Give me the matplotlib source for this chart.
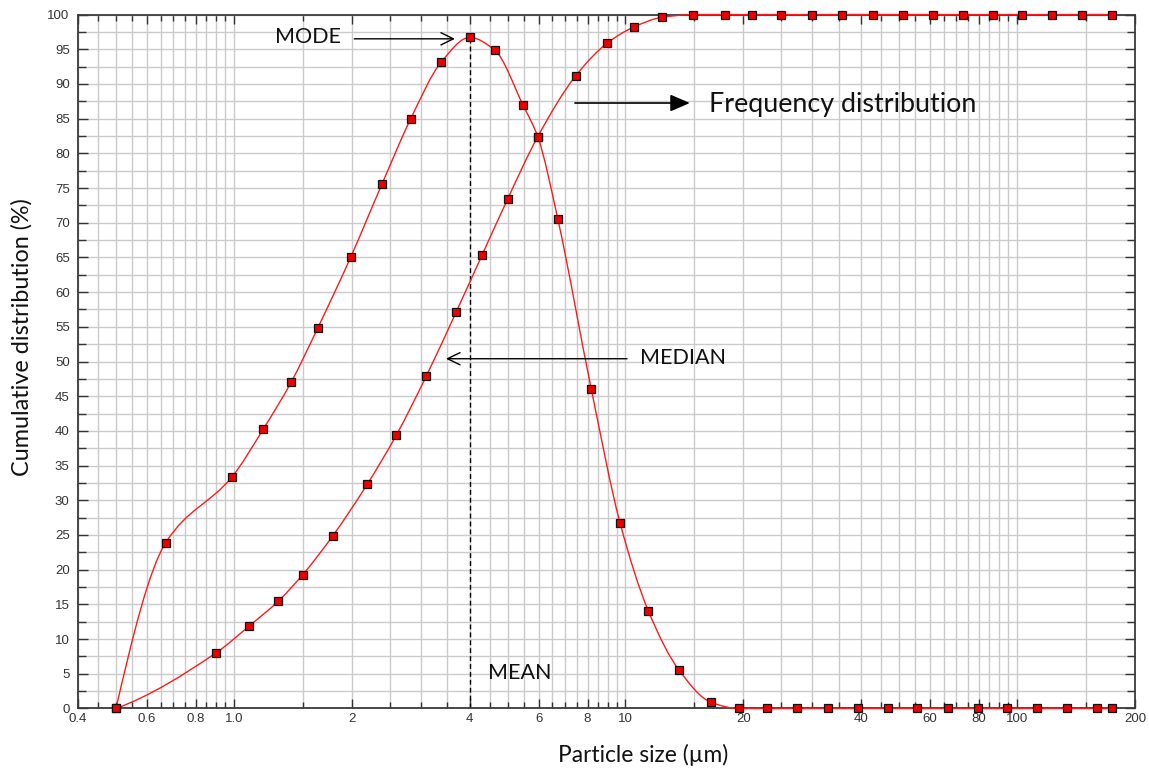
import numpy as np
import matplotlib
matplotlib.use("Agg")
import matplotlib.pyplot as plt
from matplotlib.path import Path
from matplotlib.patches import PathPatch
from matplotlib.ticker import FixedLocator, FixedFormatter, MultipleLocator, NullFormatter

# ---- data -------------------------------------------------------------
freq_x = [0.50, 0.67, 0.99, 1.19, 1.40, 1.64, 1.99, 2.39, 2.83, 3.39, 4.00,
          4.63, 5.48, 5.97, 6.72, 8.18, 9.69, 11.43, 13.71, 16.53, 19.46,
          22.95, 27.4, 32.9, 39.2, 46.7, 55.4, 66.5, 79.4, 94.1, 112.2,
          134.4, 159.8, 174.5]
freq_y = [0.0, 23.9, 33.4, 40.3, 47.0, 54.9, 65.1, 75.6, 85.0, 93.2, 96.7,
          94.9, 86.9, 82.4, 70.5, 46.0, 26.7, 14.1, 5.5, 0.9, 0.0,
          0.0, 0.0, 0.0, 0.0, 0.0, 0.0, 0.0, 0.0, 0.0, 0.0,
          0.0, 0.0, 0.0]

cum_x = [0.50, 0.90, 1.095, 1.30, 1.50, 1.79, 2.19, 2.60, 3.10, 3.70, 4.30,
         5.00, 5.97, 7.47, 8.99, 10.5, 12.4, 14.9, 17.96, 21.0, 24.9, 29.9,
         35.8, 42.8, 51.0, 61.1, 72.6, 86.7, 103.2, 123.0, 146.8, 174.5]
cum_y = [0.0, 8.0, 11.9, 15.5, 19.3, 24.9, 32.3, 39.4, 47.9, 57.2, 65.3,
         73.4, 82.4, 91.2, 95.9, 98.2, 99.6, 100.0, 100.0, 100.0, 100.0, 100.0,
         100.0, 100.0, 100.0, 100.0, 100.0, 100.0, 100.0, 100.0, 100.0, 100.0]

x_ticks = [0.4, 0.6, 0.8, 1.0, 2, 4, 6, 8, 10, 20, 40, 60, 80, 100, 200]
x_tick_labels = ["0.4", "0.6", "0.8", "1.0", "2", "4", "6", "8", "10",
                 "20", "40", "60", "80", "100", "200"]

# ---- helpers ----------------------------------------------------------
def smooth_path(x, y):
    """Monotone cubic (PCHIP) through the points in log10(x) space,
    returned as a Bezier Path in data coordinates."""
    lx = np.log10(np.asarray(x, float))
    y = np.asarray(y, float)
    h = np.diff(lx)
    d = np.diff(y) / h
    n = len(y)
    m = np.zeros(n)
    for k in range(1, n - 1):
        if d[k - 1] * d[k] <= 0:
            m[k] = 0.0
        else:
            w1 = 2 * h[k] + h[k - 1]
            w2 = h[k] + 2 * h[k - 1]
            m[k] = (w1 + w2) / (w1 / d[k - 1] + w2 / d[k])

    def end_slope(h0, h1, d0, d1):
        s = ((2 * h0 + h1) * d0 - h0 * d1) / (h0 + h1)
        if np.sign(s) != np.sign(d0):
            s = 0.0
        elif np.sign(d0) != np.sign(d1) and abs(s) > abs(3 * d0):
            s = 3 * d0
        return s

    m[0] = end_slope(h[0], h[1], d[0], d[1])
    m[-1] = end_slope(h[-1], h[-2], d[-1], d[-2])

    verts = [(10 ** lx[0], y[0])]
    codes = [Path.MOVETO]
    for k in range(n - 1):
        c1 = (lx[k] + h[k] / 3, y[k] + m[k] * h[k] / 3)
        c2 = (lx[k + 1] - h[k] / 3, y[k + 1] - m[k + 1] * h[k] / 3)
        verts += [(10 ** c1[0], c1[1]), (10 ** c2[0], c2[1]),
                  (10 ** lx[k + 1], y[k + 1])]
        codes += [Path.CURVE4] * 3
    return Path(verts, codes)


# ---- figure -----------------------------------------------------------
fig = plt.figure(figsize=(11.49, 7.69), dpi=100)
ax = fig.add_axes([0.0679, 0.0787, 0.9199, 0.9024])

ax.set_xscale("log")
ax.set_xlim(0.4, 200)
ax.set_ylim(0, 100)

# grid: every half-step inside each decade
grid_pos = np.concatenate([np.arange(d, 10 * d - 1e-9, d / 2)
                           for d in (0.1, 1.0, 10.0, 100.0)])
grid_pos = grid_pos[(grid_pos > 0.4 + 1e-9) & (grid_pos <= 200 + 1e-9)]

ax.xaxis.set_major_locator(FixedLocator(x_ticks))
ax.xaxis.set_major_formatter(FixedFormatter(x_tick_labels))
ax.xaxis.set_minor_locator(FixedLocator(grid_pos))
ax.xaxis.set_minor_formatter(NullFormatter())
ax.yaxis.set_major_locator(MultipleLocator(5))
ax.yaxis.set_minor_locator(MultipleLocator(2.5))

grid_kw = dict(color="#cbcbcb", linewidth=1.0)
ax.grid(True, which="major", **grid_kw)
ax.grid(True, which="minor", **grid_kw)
ax.set_axisbelow(True)

tick_font = {"family": "Liberation Sans", "size": 9.5}
ax.tick_params(axis="both", which="both", direction="in", top=True,
               right=True, colors="#333333", labelcolor="#333333")
ax.tick_params(axis="x", which="major", length=6.5, width=1.0, pad=3.5)
ax.tick_params(axis="x", which="minor", length=4.0, width=1.0)
ax.tick_params(axis="y", which="major", length=7.0, width=1.0, pad=6)
ax.tick_params(axis="y", which="minor", length=5.5, width=1.0)
for lab in ax.get_xticklabels() + ax.get_yticklabels():
    lab.set_fontfamily(tick_font["family"])
    lab.set_fontsize(tick_font["size"])

for sp in ax.spines.values():
    sp.set_color("#3a3a3a")
    sp.set_linewidth(1.3)

# curves
for xs, ys in ((freq_x, freq_y), (cum_x, cum_y)):
    ax.add_patch(PathPatch(smooth_path(xs, ys), facecolor="none",
                           edgecolor="#ff1a1a", linewidth=1.0,
                           clip_on=False, zorder=3))
    ax.plot(xs, ys, linestyle="none", marker="s", markersize=5.6,
            markerfacecolor="#ee0000", markeredgecolor="#111111",
            markeredgewidth=0.9, clip_on=False, zorder=4)

# mode line
k_mode = int(np.argmax(freq_y))
ax.vlines(freq_x[k_mode], 0, freq_y[k_mode], colors="black",
          linestyles=(0, (3.5, 2.2)), linewidth=1.0, zorder=2)

# annotations
label_font = "Lato"
txt_color = "#111111"
ax.annotate("", xy=(3.67, 96.5), xytext=(2.03, 96.5),
            arrowprops=dict(arrowstyle="->,head_length=0.45,head_width=0.22",
                            color="black", lw=1.0, mutation_scale=20,
                            shrinkA=0, shrinkB=0))
ax.text(1.55, 96.8, "MODE", fontsize=15.5, family=label_font,
        color=txt_color, ha="center", va="center")

ax.annotate("", xy=(14.6, 87.25), xytext=(7.43, 87.25),
            arrowprops=dict(arrowstyle="-|>,head_length=0.6,head_width=0.26",
                            color="black", lw=1.2, mutation_scale=20,
                            shrinkA=0, shrinkB=0))
ax.text(16.35, 87.1, "Frequency distribution", fontsize=19.4,
        family=label_font, color=txt_color, ha="left", va="center")

ax.annotate("", xy=(3.48, 50.4), xytext=(10.09, 50.4),
            arrowprops=dict(arrowstyle="->,head_length=0.45,head_width=0.22",
                            color="black", lw=1.0, mutation_scale=20,
                            shrinkA=0, shrinkB=0))
ax.text(10.89, 50.5, "MEDIAN", fontsize=15.5, family=label_font,
        color=txt_color, ha="left", va="center")

ax.text(4.46, 5.1, "MEAN", fontsize=15.5, family=label_font,
        color=txt_color, ha="left", va="center")

ax.set_xlabel("Particle size (µm)", fontsize=16.4, family=label_font,
              color=txt_color, va="center")
ax.xaxis.set_label_coords(0.5345, -0.067)
ax.set_ylabel("Cumulative distribution (%)", fontsize=16.8, family=label_font,
              color=txt_color, va="center")
ax.yaxis.set_label_coords(-0.053, 0.535)

fig.savefig("out.png", dpi=100)
